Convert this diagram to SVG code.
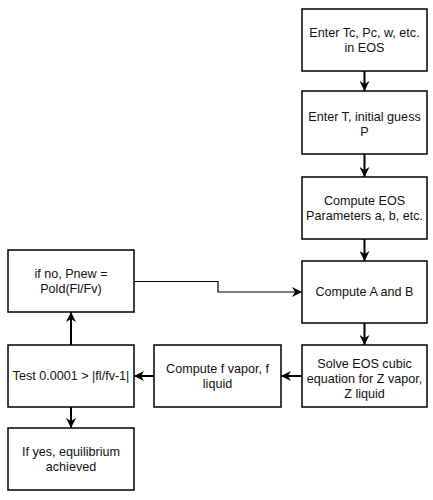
<svg xmlns="http://www.w3.org/2000/svg" width="433" height="500" viewBox="0 0 433 500">
<style>
.box{fill:#ffffff;stroke:#000000;stroke-width:1.5}
.lbl{font-family:"Liberation Sans",Arial,sans-serif;font-size:12.6px;fill:#111111;text-anchor:middle}
.arr{fill:none;stroke:#000000;stroke-width:2}
.thin{fill:none;stroke:#000000;stroke-width:1.2}
</style>
<defs>
<marker id="ah" markerUnits="userSpaceOnUse" markerWidth="10" markerHeight="10" viewBox="0 0 10 10" refX="10" refY="5" orient="auto">
<path d="M0,0 L10,5 L0,10 L3,5 Z" fill="#000000"/>
</marker>
</defs>
<rect width="433" height="500" fill="#ffffff"/>
<g id="connectors">
<line class="arr" x1="364.5" y1="71" x2="364.5" y2="91" marker-end="url(#ah)"/>
<line class="arr" x1="364.5" y1="154" x2="364.5" y2="177" marker-end="url(#ah)"/>
<line class="arr" x1="364.5" y1="239" x2="364.5" y2="261" marker-end="url(#ah)"/>
<line class="arr" x1="364.5" y1="323" x2="364.5" y2="345" marker-end="url(#ah)"/>
<line class="arr" x1="302" y1="376" x2="281" y2="376" marker-end="url(#ah)"/>
<line class="arr" x1="154" y1="376" x2="134" y2="376" marker-end="url(#ah)"/>
<line class="arr" x1="71" y1="345" x2="71" y2="312" marker-end="url(#ah)"/>
<line class="arr" x1="71" y1="407" x2="71" y2="428" marker-end="url(#ah)"/>
<path class="thin" d="M134 281.5 H218 V292 H302" marker-end="url(#ah)"/>
</g>
<g id="n1"><rect class="box" x="302" y="9" width="125" height="62"/>
<text class="lbl" x="364.5" y="37">Enter Tc, Pc, w, etc.</text><text class="lbl" x="364.5" y="52">in EOS</text></g>
<g id="n2"><rect class="box" x="302" y="91" width="125" height="63"/>
<text class="lbl" x="364.5" y="120.5">Enter T, initial guess</text><text class="lbl" x="364.5" y="135.5">P</text></g>
<g id="n3"><rect class="box" x="302" y="177" width="125" height="62"/>
<text class="lbl" x="364.5" y="205">Compute EOS</text><text class="lbl" x="364.5" y="220">Parameters a, b, etc.</text></g>
<g id="n4"><rect class="box" x="302" y="261" width="125" height="62"/>
<text class="lbl" x="364.5" y="296">Compute A and B</text></g>
<g id="n5"><rect class="box" x="302" y="345" width="125" height="62"/>
<text class="lbl" x="364.5" y="368">Solve EOS cubic</text><text class="lbl" x="364.5" y="383">equation for Z vapor,</text><text class="lbl" x="364.5" y="398">Z liquid</text></g>
<g id="n6"><rect class="box" x="154" y="345" width="127" height="62"/>
<text class="lbl" x="217.5" y="373">Compute f vapor, f</text><text class="lbl" x="217.5" y="388">liquid</text></g>
<g id="n7"><rect class="box" x="8" y="345" width="126" height="62"/>
<text class="lbl" x="71" y="380">Test 0.0001 &gt; |fl/fv-1|</text></g>
<g id="n8"><rect class="box" x="8" y="250" width="126" height="62"/>
<text class="lbl" x="71" y="278">if no, Pnew =</text><text class="lbl" x="71" y="293">Pold(Fl/Fv)</text></g>
<g id="n9"><rect class="box" x="8" y="428" width="126" height="62"/>
<text class="lbl" x="71" y="456">If yes, equilibrium</text><text class="lbl" x="71" y="471">achieved</text></g>
</svg>
